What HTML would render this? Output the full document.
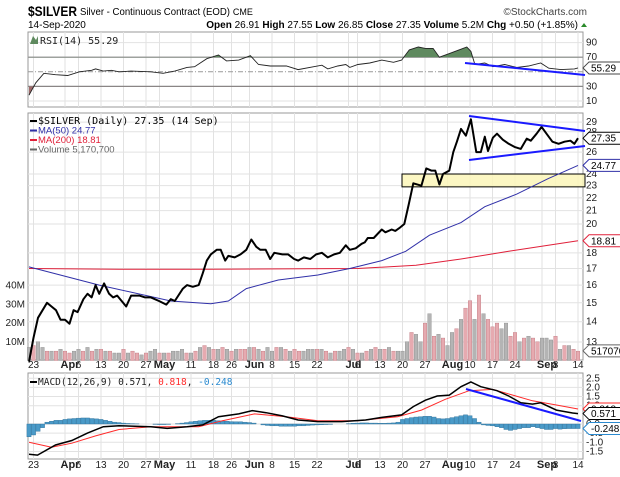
<!DOCTYPE html>
<html><head><meta charset="utf-8"><style>
html,body{margin:0;padding:0;background:#fff;}
svg{display:block;font-family:"Liberation Sans",sans-serif;}
</style></head><body>
<svg id="c" width="620" height="477" viewBox="0 0 620 477">
<text x="28" y="16" font-size="14" font-weight="bold" fill="#000" textLength="49" lengthAdjust="spacingAndGlyphs">$SILVER</text>
<text x="80" y="15" font-size="10.5" fill="#000"><tspan textLength="150" lengthAdjust="spacingAndGlyphs">Silver - Continuous Contract (EOD)</tspan> <tspan font-size="9">CME</tspan></text>
<text x="587" y="15" font-size="10" fill="#444" text-anchor="end">©StockCharts.com</text>
<text x="28" y="28" font-size="10" fill="#000">14-Sep-2020</text>
<text x="578" y="28" font-size="10" fill="#000" text-anchor="end"><tspan font-weight="bold">Open</tspan> 26.91 <tspan font-weight="bold">High</tspan> 27.55 <tspan font-weight="bold">Low</tspan> 26.85 <tspan font-weight="bold">Close</tspan> 27.35 <tspan font-weight="bold">Volume</tspan> 5.2M <tspan font-weight="bold">Chg</tspan> +0.50 (+1.85%)</text>
<polygon points="581,27 587,27 584,23" fill="#2a8a2a"/>
<g id="g"></g>
</svg>
<script>
// ---- data ----
const dayTicks=[1,11,16,21,26,36,41,45,54,59,64,73,78,83,88,98,103,108,117,122];
const dayLabels=["23","6","13","20","27","11","18","26","8","15","22","6","13","20","27","10","17","24","8","14"];
const monthTicks=[8,29,49,71,93,114];
const monthLabels=["Apr","May","Jun","Jul","Aug","Sep"];
const priceIdx=[0,1,2,4,5,6,7,8,9,9.9,10.8,12.1,13,13.9,14.8,15.6,16.7,17.8,18.7,19.6,21.6,22.7,24.5,25.8,27.1,28.9,30.5,31.5,32.4,34.2,35.1,36.4,37.7,38.6,39.5,40.4,41.7,42.6,43.6,44.3,45.7,47,48.3,49.4,50.5,51.4,52.6,53.6,54.5,56.3,57.6,58.9,59.8,61.1,62.5,63.8,65.1,66.4,67.8,69.1,70.4,71.3,72.6,73.9,74.6,75.3,76.6,78.4,79.2,80.6,81.4,82.3,83.4,84.4,85.4,87.2,88.3,89.4,90.3,91.2,92,93.4,94.3,95.1,96,97.1,98.2,99.4,100.4,101.3,102,103.1,104,105.3,106.6,107.9,109.3,110.6,111.5,112.8,113.9,115,116.3,117.7,119,120.3,121.2,122];
const priceVal=[12.1,13.2,14.2,15.0,14.8,14.6,14.1,14.1,13.9,14.6,14.5,15.2,15.5,15.3,16.0,15.5,16.1,15.5,15.3,15.4,14.8,15.4,15.4,15.3,15.3,15.1,14.9,15.2,15.1,15.8,16.0,15.9,16.0,16.7,17.5,17.9,18.2,18.2,17.5,17.8,17.7,17.9,18.2,18.9,18.4,18.2,18.2,17.6,18.0,17.9,17.9,17.6,17.5,17.7,17.6,17.9,18.0,17.7,17.9,18.0,18.5,18.2,18.3,18.6,18.7,19.0,19.0,19.6,19.4,19.6,19.5,19.7,20.0,21.5,23.2,23.0,24.5,24.3,24.3,23.1,24.0,24.3,26.0,27.0,28.3,27.6,29.3,26.0,26.0,27.5,26.1,27.4,27.8,27.2,26.8,26.5,26.3,27.3,27.1,27.8,28.5,27.8,27.0,26.8,27.0,27.1,26.8,27.35];
const ma50Idx=[0,15.6,31.5,40.4,44.3,48.3,55.4,64.2,71.3,78.4,83.7,89,96,101.3,108.4,115.4,122];
const ma50Val=[17.1,16.0,15.1,14.95,15.1,15.8,16.3,16.6,17.0,17.5,18.1,19.2,20.1,21.3,22.3,23.6,24.77];
const ma200Idx=[0,20,40,73,86,96,106.6,115.4,122];
const ma200Val=[17.0,16.95,16.95,17.0,17.2,17.6,18.1,18.5,18.81];
const volume=[7,8,10,7,5,5,5,6,5,4,5,6,5,7,5,6,6,5,5,4,4,6,4,5,4,3,4,5,6,4,4,4,5,5,6,4,4,5,7,8,7,6,6,7,6,5,6,6,6,7,7,6,5,7,5,7,7,6,5,6,5,5,6,6,6,6,5,4,5,5,6,7,6,4,4,5,6,7,6,6,7,5,5,5,10,15,14,10,20,25,13,14,12,8,15,17,22,28,32,22,35,25,22,18,20,17,20,13,15,10,12,13,12,10,12,12,11,13,6,8,8,6,5];
const volDown="grggrgrgrrggrgrgrgrggrgrrgrggrgrgggrgrgrgrgrgrgrrgrgrggrgrgrrgggrgrgrggrgrgrgrgrgrgggrggrgrgrggrgrrgrgrrrggrrgrgrrgggrgrgrr";
const rsiIdx=[0,1.5,3.3,5.9,8.6,11.2,13.9,14.8,16.5,18.3,20,22.7,27.1,29.8,32.4,35.1,36.8,39.5,42.1,43.9,46.6,49.2,51,53.6,57.2,59.8,63.3,65.1,66.4,68.6,70.4,71.3,73.1,75.7,78.4,81,82.8,84.5,86.5,88.1,89.8,91.2,93.4,96,97.3,98.2,99.1,101.3,103.1,105.7,108.4,111,113.7,115.5,118.2,121.2,122];
const rsiVal=[18,35,48,46,45,50,52,54,51,52,50,51,50,48,51,56,57,68,73,65,66,72,60,58,58,53,57,59,54,58,60,56,60,62,66,63,66,80,84,82,82,70,75,81,84,78,60,62,57,60,56,58,62,55,53,54,55.29];
const macdIdx=[0,1.9,5.9,9.5,13,16.5,20,27.1,30.7,35.1,38.6,42.1,46.6,49.6,52.7,56.3,59.8,64.2,69.5,74.8,78.4,82.8,85.4,88.1,90.7,93.4,96,98.2,100.4,104,106.6,109.3,111.9,113.7,117.2,120.8,122];
const macdVal=[-1.65,-1.7,-1.15,-0.9,-0.5,-0.15,-0.1,-0.15,-0.24,-0.15,-0.05,0.4,0.55,0.73,0.62,0.44,0.22,0.13,0.13,0.22,0.36,0.5,0.95,1.3,1.53,1.58,2.04,2.3,2.04,1.82,1.53,1.16,1.09,1.16,0.76,0.6,0.571];
const sigIdx=[0,5,9.5,14.8,20,27.1,37.7,43,50.1,57.2,64.2,73.1,81.9,87.2,92.5,97.8,103.1,107.5,111.9,117.2,122];
const sigVal=[-1.0,-1.27,-1.05,-0.65,-0.3,-0.15,-0.15,0.18,0.55,0.4,0.18,0.18,0.4,0.76,1.35,1.82,1.89,1.58,1.27,1.04,0.818];
const hist=[-0.7,-0.6,-0.4,-0.2,0.1,0.15,0.2,0.2,0.25,0.28,0.3,0.32,0.33,0.33,0.3,0.28,0.25,0.2,0.15,0.1,0.08,0.05,0.03,0.02,0.01,0,0,0,-0.02,-0.03,-0.03,-0.02,0,0.02,0.05,0.08,0.12,0.15,0.18,0.2,0.2,0.2,0.18,0.16,0.15,0.13,0.12,0.12,0.1,0.08,0.05,0,-0.05,-0.08,-0.1,-0.1,-0.12,-0.12,-0.12,-0.12,-0.1,-0.1,-0.08,-0.06,-0.05,-0.04,-0.03,-0.02,0,0,0,0.02,0.04,0.05,0.06,0.06,0.05,0.05,0.04,0.04,0.05,0.06,0.1,0.25,0.3,0.35,0.38,0.4,0.42,0.42,0.38,0.3,0.28,0.3,0.35,0.4,0.45,0.5,0.45,0.3,0.1,-0.05,-0.08,-0.1,-0.15,-0.2,-0.3,-0.35,-0.3,-0.25,-0.2,-0.2,-0.15,-0.2,-0.25,-0.3,-0.3,-0.25,-0.28,-0.26,-0.25,-0.25,-0.248];
const priceTicks=[13,14,15,16,17,18,20,21,22,23,24,26,28,29];
const volTicks=[10,20,30,40];
const rsiTicks=[10,30,70,90];
const macdTicks=[-1.5,-1.0,-0.5,0.0,1.0,1.5,2.0,2.5];

// ---- scales ----
const L=28,R=583;
const x=i=>29+i*4.5;
const yP=p=>342-274*Math.log(p/13);
const yV=v=>360.5-v*1.87;
const yR=v=>101-(v-10)*0.73;
const yM=v=>424-v*18.3;
const NS="http://www.w3.org/2000/svg";
const G=document.getElementById('g');
function mk(tag,attrs,parent){const e=document.createElementNS(NS,tag);for(const k in attrs)e.setAttribute(k,attrs[k]);(parent||G).appendChild(e);return e;}
function path(ix,vals,fy){return ix.map((v,k)=>(k?'L':'M')+x(v).toFixed(1)+','+fy(vals[k]).toFixed(1)).join('');}

const panels=[[32,107,'rsi-panel'],[113,360,'price-panel'],[373,459,'macd-panel']];
panels.forEach(p=>{
  const r=mk('rect',{x:L,y:p[0],width:R-L,height:p[1]-p[0],fill:'#fff',stroke:'#999','stroke-width':1});
  
  
  dayTicks.concat(monthTicks).forEach(t=>{
    const l=mk('line',{x1:x(t),x2:x(t),y1:p[0],y2:p[1],stroke:'#e2e2e2','stroke-width':1});
    
    
  });
});
function hgrid(y,name){const l=mk('line',{x1:L,x2:R,y1:y,y2:y,stroke:'#e2e2e2','stroke-width':1});}
function label(xx,yy,t,name,opt){const e=mk('text',Object.assign({x:xx,y:yy,'font-size':10,fill:'#222'},opt||{}));e.textContent=t;return e;}

// date axes
[[368],[468]].forEach(a=>{
  dayTicks.forEach((t,k)=>label(x(t),a[0],dayLabels[k],'x-tick-label',{'text-anchor':'middle'}));
  monthTicks.forEach((t,k)=>label(x(t)+5,a[0],monthLabels[k],'x-month-label',{'text-anchor':'middle','font-weight':'bold','font-size':11}));
});

// RSI
rsiTicks.forEach(t=>{hgrid(yR(t),'rsi-gridline');label(586,yR(t)+3,String(t),'rsi-tick-label');});
[70,30].forEach(t=>{const l=mk('line',{x1:L,x2:R,y1:yR(t),y2:yR(t),stroke:'#888','stroke-width':1.2});});
{const l=mk('line',{x1:L,x2:R,y1:yR(50),y2:yR(50),stroke:'#999','stroke-dasharray':'5,2,1,2'});}
const cp1=mk('clipPath',{id:'above70'});mk('rect',{x:L,y:32,width:R-L,height:yR(70)-32},cp1);
const cp2=mk('clipPath',{id:'below30'});mk('rect',{x:L,y:yR(30),width:R-L,height:107-yR(30)},cp2);
const rp=path(rsiIdx,rsiVal,yR);
const fillHi=mk('path',{d:rp+'L'+x(122)+','+yR(70)+'L'+x(0)+','+yR(70)+'Z',fill:'#5f8a5f','clip-path':'url(#above70)'});

const fillLo=mk('path',{d:rp+'L'+x(122)+','+yR(30)+'L'+x(0)+','+yR(30)+'Z',fill:'#a06a6a','clip-path':'url(#below30)'});

const rl=mk('path',{d:rp,fill:'none',stroke:'#222','stroke-width':0.9});

label(40,44,'RSI(14) 55.29','rsi-legend',{'font-size':10,'font-family':'DejaVu Sans Mono, monospace'});
{const e=mk('path',{d:'M30,44 L33,36 L36,40 L38,36 L38,44Z',fill:'#5f8a5f'});}
{const e=mk('line',{x1:465,y1:63,x2:585,y2:75,stroke:'#1a1aff','stroke-width':2});}

// Price panel
priceTicks.forEach(t=>{hgrid(yP(t),'price-gridline');label(586,yP(t)+3,String(t),'price-tick-label');});
volTicks.forEach(t=>label(25,yV(t)+3,t+'M','volume-tick-label',{'text-anchor':'end'}));
volume.forEach((v,i)=>{
  const down=volDown[i]==='r';
  const b=mk('rect',{x:x(i)-1.8,y:yV(v),width:3.6,height:yV(0)-yV(v),fill:down?'#e6aab0':'#b4b4b4',stroke:down?'#c07880':'#8c8c8c','stroke-width':0.4});
  
  
});
{const e=mk('rect',{x:402,y:yP(24),width:183,height:yP(22.9)-yP(24),fill:'#fbf6b8','fill-opacity':0.85,stroke:'#000','stroke-width':1});}
{const e=mk('path',{d:path(ma200Idx,ma200Val,yP),fill:'none',stroke:'#e0203a','stroke-width':1});}
{const e=mk('path',{d:path(ma50Idx,ma50Val,yP),fill:'none',stroke:'#3030a8','stroke-width':1});}
{const e=mk('path',{d:path(priceIdx,priceVal,yP),fill:'none',stroke:'#000','stroke-width':2,'stroke-linejoin':'round'});}
{const e=mk('line',{x1:469,y1:116,x2:585,y2:131,stroke:'#1a1aff','stroke-width':2});}
{const e=mk('line',{x1:469,y1:160,x2:585,y2:146,stroke:'#1a1aff','stroke-width':2});}
const leg=[['$SILVER (Daily) 27.35 (14 Sep)','#000','legend-price'],['MA(50) 24.77','#3030a8','legend-ma50'],['MA(200) 18.81','#e0203a','legend-ma200'],['Volume 5,170,700','#666','legend-volume']];
leg.forEach((l,k)=>{
  const yy=124+k*9.5;
  const m=mk('line',{x1:30,x2:37,y1:yy-3,y2:yy-3,stroke:l[1],'stroke-width':2});
  
  label(38,yy,l[0],l[2],{fill:l[1],'font-size':k==0?10:9.5,'font-family':k==0?'DejaVu Sans Mono, monospace':'Liberation Sans, sans-serif'});
});

// MACD
macdTicks.forEach(t=>{hgrid(yM(t),'macd-gridline');label(586,yM(t)+3,t.toFixed(1),'macd-tick-label');});
hist.forEach((v,i)=>{
  const y0=yM(0),y1=yM(v);
  const b=mk('rect',{x:x(i)-2.1,y:Math.min(y0,y1),width:4.2,height:Math.abs(y1-y0),fill:'#4a9ac8',stroke:'#2a6d96','stroke-width':0.4});
  
  
});
{const e=mk('path',{d:path(sigIdx,sigVal,yM),fill:'none',stroke:'#ff2a2a','stroke-width':1});}
{const e=mk('path',{d:path(macdIdx,macdVal,yM),fill:'none',stroke:'#000','stroke-width':1.5});}
{const e=mk('line',{x1:466,y1:389,x2:581,y2:421,stroke:'#1a1aff','stroke-width':2});}
{const m=mk('line',{x1:30,x2:37,y1:382,y2:382,stroke:'#000','stroke-width':2});
 const t=label(38,385,'','macd-legend',{'font-family':'DejaVu Sans Mono, monospace','font-size':9.5});
 t.innerHTML='MACD(12,26,9) 0.571, <tspan fill="#ff2a2a">0.818</tspan>, <tspan fill="#2a8ad0">-0.248</tspan>';}

// value flags
function flag(yy,t,col,name,bg){
  const w=t.length*5.6+6;
  const p=mk('path',{d:`M583,${yy} L589,${yy-6} L${589+w},${yy-6} L${589+w},${yy+6} L589,${yy+6}Z`,fill:bg||'#fff',stroke:col,'stroke-width':1});
  
  label(591,yy+3.5,t,name+'-text',{'font-size':10,fill:'#000'});
}
flag(yP(27.35),'27.35','#000','price-flag');
flag(yP(24.77),'24.77','#3030a8','ma50-flag');
flag(yP(18.81),'18.81','#e0203a','ma200-flag');
flag(yV(5.17),'517070','#666','volume-flag');
flag(yR(55.29),'55.29','#444','rsi-flag');
flag(yM(0.818),'0.818','#ff2a2a','signal-flag');
flag(yM(0.571),'0.571','#000','macd-flag');
flag(yM(-0.248),'-0.248','#2a8ad0','histogram-flag');
</script>
</body></html>
